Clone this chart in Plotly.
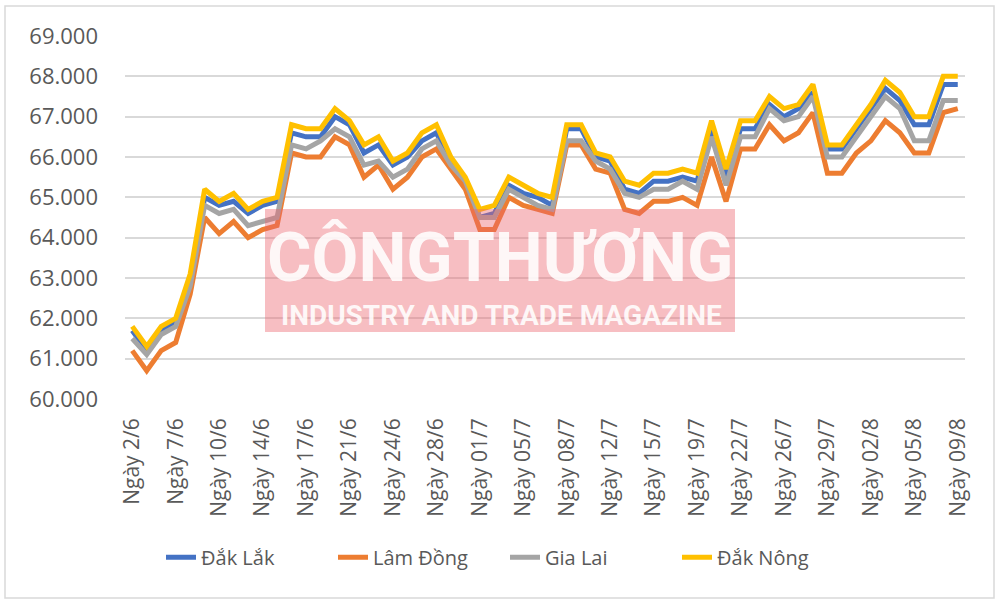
import plotly.graph_objects as go

dates = ["2/6", "3/6", "6/6", "7/6", "8/6", "9/6", "10/6", "11/6", "13/6", "14/6",
         "15/6", "16/6", "17/6", "18/6", "20/6", "21/6", "22/6", "23/6", "24/6", "25/6",
         "27/6", "28/6", "29/6", "30/6", "01/7", "02/7", "04/7", "05/7", "06/7", "07/7",
         "08/7", "09/7", "11/7", "12/7", "13/7", "14/7", "15/7", "16/7", "18/7", "19/7",
         "20/7", "21/7", "22/7", "23/7", "25/7", "26/7", "27/7", "28/7", "29/7", "30/7",
         "01/8", "02/8", "03/8", "04/8", "05/8", "06/8", "08/8", "09/8"]
categories = ["Ngày " + d for d in dates]

dak_lak = [61700, 61200, 61700, 61900, 62900, 65000, 64800, 64900, 64600, 64800,
           64900, 66600, 66500, 66500, 67000, 66800, 66100, 66300, 65800, 66000,
           66400, 66600, 65900, 65400, 64500, 64600, 65300, 65100, 65000, 64800,
           66700, 66700, 66000, 65900, 65200, 65100, 65400, 65400, 65500, 65400,
           66700, 65500, 66700, 66700, 67300, 67000, 67200, 67600, 66200, 66200,
           66700, 67200, 67700, 67400, 66800, 66800, 67800, 67800]
lam_dong = [61200, 60700, 61200, 61400, 62600, 64500, 64100, 64400, 64000, 64200,
            64300, 66100, 66000, 66000, 66500, 66300, 65500, 65800, 65200, 65500,
            66000, 66200, 65700, 65200, 64200, 64200, 65000, 64800, 64700, 64600,
            66300, 66300, 65700, 65600, 64700, 64600, 64900, 64900, 65000, 64800,
            66000, 64900, 66200, 66200, 66800, 66400, 66600, 67100, 65600, 65600,
            66100, 66400, 66900, 66600, 66100, 66100, 67100, 67200]
gia_lai = [61500, 61100, 61600, 61800, 62800, 64800, 64600, 64700, 64300, 64400,
           64500, 66300, 66200, 66400, 66700, 66500, 65800, 65900, 65500, 65700,
           66200, 66400, 65800, 65400, 64500, 64500, 65200, 65000, 64800, 64700,
           66400, 66400, 65900, 65700, 65100, 65000, 65200, 65200, 65400, 65200,
           66500, 65300, 66500, 66500, 67200, 66900, 67000, 67500, 66000, 66000,
           66500, 67000, 67500, 67200, 66400, 66400, 67400, 67400]
dak_nong = [61800, 61300, 61800, 62000, 63100, 65200, 64900, 65100, 64700, 64900,
            65000, 66800, 66700, 66700, 67200, 66900, 66300, 66500, 65900, 66100,
            66600, 66800, 66000, 65500, 64700, 64800, 65500, 65300, 65100, 65000,
            66800, 66800, 66100, 66000, 65400, 65300, 65600, 65600, 65700, 65600,
            66900, 65700, 66900, 66900, 67500, 67200, 67300, 67800, 66300, 66300,
            66800, 67300, 67900, 67600, 67000, 67000, 68000, 68000]

series = [
    ("Đắk Lắk", dak_lak, "#4472C4"),
    ("Lâm Đồng", lam_dong, "#ED7D31"),
    ("Gia Lai", gia_lai, "#A5A5A5"),
    ("Đắk Nông", dak_nong, "#FFC000"),
]

y_ticks = list(range(60000, 69001, 1000))
x_tickvals = categories[::3]

fig = go.Figure()
for name, vals, color in series:
    fig.add_trace(go.Scatter(
        x=categories, y=vals, name=name, mode="lines",
        line=dict(color=color, width=5, shape="linear"),
    ))

FONT = "Open Sans"
TXT = "#595959"

fig.update_layout(
    width=1000, height=607,
    margin=dict(l=125, r=35, t=36, b=208, autoexpand=False),
    paper_bgcolor="white", plot_bgcolor="white",
    separators=",.",
    font=dict(family=FONT, size=20, color=TXT),
    showlegend=True,
    legend=dict(
        orientation="h", xref="container", yref="container",
        x=0.161, xanchor="left", y=0.082, yanchor="middle",
        font=dict(family=FONT, size=20, color=TXT),
        entrywidth=127, entrywidthmode="pixels",
    ),
    xaxis=dict(
        type="category", range=[-0.5, len(categories) - 0.5],
        tickmode="array", tickvals=x_tickvals, ticktext=x_tickvals,
        tickangle=-90, showgrid=False, zeroline=False, showline=False,
        ticks="", ticklabelstandoff=14, automargin=False,
        tickfont=dict(family=FONT, size=21, color=TXT),
    ),
    yaxis=dict(
        range=[60000, 69000], tickmode="array", tickvals=y_ticks,
        tickformat=",d", showgrid=True, gridcolor="#D9D9D9", gridwidth=1.5,
        zeroline=False, showline=False, ticks="", ticklabelstandoff=26,
        automargin=False,
        tickfont=dict(family=FONT, size=22, color=TXT),
    ),
    shapes=[
        dict(type="rect", xref="paper", yref="paper",
             x0=(5 - 125) / 840, x1=(994 - 125) / 840,
             y0=(399 - 598) / 363, y1=(399 - 6) / 363,
             line=dict(color="#D9D9D9", width=1.5), fillcolor="rgba(0,0,0,0)",
             layer="below"),
        dict(type="rect", xref="paper", yref="paper",
             x0=(265 - 125) / 840, x1=(735 - 125) / 840,
             y0=(399 - 332) / 363, y1=(399 - 209) / 363,
             line=dict(width=0), fillcolor="rgba(236,100,110,0.42)",
             layer="above"),
    ],
    annotations=[
        dict(text="CÔNGTHƯƠNG", xref="paper", yref="paper",
             x=(500 - 125) / 840, y=(399 - 258) / 363, xanchor="center", yanchor="middle",
             showarrow=False, opacity=0.88,
             font=dict(family="Roboto", size=68, color="white", weight="bold")),
        dict(text="INDUSTRY AND TRADE MAGAZINE", xref="paper", yref="paper",
             x=(501 - 125) / 840, y=(399 - 315) / 363, xanchor="center", yanchor="middle",
             showarrow=False, opacity=0.88,
             font=dict(family="Roboto", size=28, color="white", weight="bold")),
    ],
)

fig.write_html("out.html")
